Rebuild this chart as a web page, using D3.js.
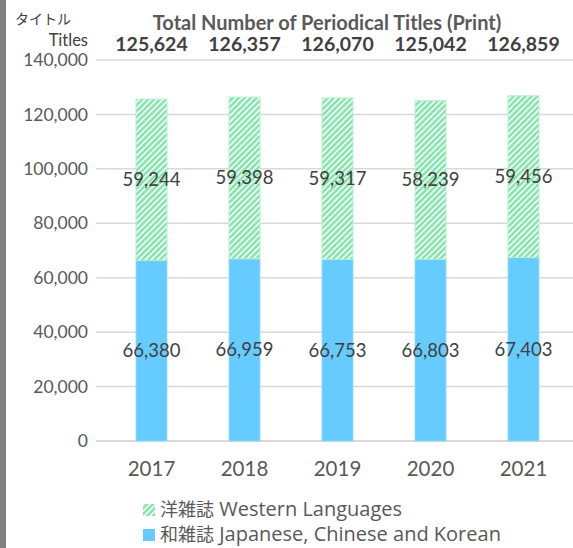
<!DOCTYPE html>
<html>
<head>
<meta charset="utf-8">
<script src="https://cdn.jsdelivr.net/npm/d3@7"></script>
<style>
  html, body { margin: 0; padding: 0; background: #fff; }
  svg { display: block; font-family: Lato, "Noto Sans CJK JP", sans-serif; }
</style>
</head>
<body>
<div id="chart"></div>
<script>
// Periodical titles held (print), stacked by language group.
var years = ["2017", "2018", "2019", "2020", "2021"];
var japanese = [66380, 66959, 66753, 66803, 67403];
var western = [59244, 59398, 59317, 58239, 59456];
var totals = [125624, 126357, 126070, 125042, 126859];
var yTicks = [0, 20000, 40000, 60000, 80000, 100000, 120000, 140000];
var legendJa = ["洋雑誌", "和雑誌"];
var legendEn = ["Western Languages", "Japanese, Chinese and Korean"];

(function () {
  "use strict";

  var width = 573, height = 548;
  var textColor = "#595959";
  var blue = "#66ccff", green = "#88e5b0";
  var fmt = d3.format(",");

  var svg = d3.select("#chart").append("svg")
    .attr("width", width)
    .attr("height", height);

  // striped fill for the western-language segment
  var defs = svg.append("defs");
  var pat = defs.append("pattern")
    .attr("id", "stripes")
    .attr("patternUnits", "userSpaceOnUse")
    .attr("width", 4.2)
    .attr("height", 4.2)
    .attr("patternTransform", "rotate(45)");
  pat.append("rect").attr("width", 4.2).attr("height", 4.2).attr("fill", green);
  pat.append("rect").attr("x", 0).attr("width", 1.5).attr("height", 4.2).attr("fill", "#fff");

  // gray strip on the left edge
  svg.append("rect").attr("x", 0).attr("y", 0).attr("width", 6).attr("height", height).attr("fill", "#7f7f7f");

  var x = d3.scaleBand().domain(years).range([105, 570])
    .paddingInner(2 / 3).paddingOuter(1 / 3);
  var y = d3.scaleLinear().domain([0, 140000]).range([441, 60]);

  // gridlines
  svg.append("g")
    .selectAll("line")
    .data(yTicks)
    .join("line")
    .attr("x1", 96).attr("x2", width)
    .attr("y1", function (d) { return y(d); })
    .attr("y2", function (d) { return y(d); })
    .attr("stroke", "#d9d9d9")
    .attr("stroke-width", function (d) { return d === 0 ? 2 : 1.5; });

  // y axis labels
  var yAxis = svg.append("g")
    .attr("transform", "translate(88,0)")
    .call(d3.axisLeft(y).tickValues(yTicks).tickFormat(fmt).tickSize(0).tickPadding(0));
  yAxis.select(".domain").remove();
  yAxis.selectAll("text")
    .attr("fill", textColor)
    .attr("font-size", 17.5)
    .attr("font-family", "Lato, sans-serif");

  // x axis labels
  var xAxis = svg.append("g")
    .attr("transform", "translate(0,461)")
    .call(d3.axisBottom(x).tickSize(0).tickPadding(0));
  xAxis.select(".domain").remove();
  xAxis.selectAll("text")
    .attr("fill", textColor)
    .attr("font-size", 20.5)
    .attr("font-family", "Lato, sans-serif");

  var rows = years.map(function (yr, i) {
    return { year: yr, jp: japanese[i], we: western[i], total: totals[i] };
  });

  var bars = svg.append("g");
  bars.selectAll("rect.jp")
    .data(rows)
    .join("rect")
    .attr("class", "jp")
    .attr("x", function (d) { return x(d.year); })
    .attr("width", x.bandwidth())
    .attr("y", function (d) { return y(d.jp); })
    .attr("height", function (d) { return y(0) - y(d.jp); })
    .attr("fill", blue)
    .attr("stroke", "#8fdcff")
    .attr("stroke-width", 0.8);

  bars.selectAll("rect.we")
    .data(rows)
    .join("rect")
    .attr("class", "we")
    .attr("x", function (d) { return x(d.year); })
    .attr("width", x.bandwidth())
    .attr("y", function (d) { return y(d.jp + d.we); })
    .attr("height", function (d) { return y(d.jp) - y(d.jp + d.we); })
    .attr("fill", "url(#stripes)")
    .attr("stroke", "#b8efcf")
    .attr("stroke-width", 1);

  var cx = function (d) { return x(d.year) + x.bandwidth() / 2; };

  var labels = svg.append("g")
    .attr("text-anchor", "middle")
    .attr("fill", "#404040")
    .attr("font-size", 18.5);
  labels.selectAll("text.jp")
    .data(rows)
    .join("text")
    .attr("class", "jp")
    .attr("x", cx)
    .attr("y", function (d) { return y(d.jp / 2); })
    .attr("dy", "0.35em")
    .text(function (d) { return fmt(d.jp); });
  labels.selectAll("text.we")
    .data(rows)
    .join("text")
    .attr("class", "we")
    .attr("x", cx)
    .attr("y", function (d) { return y(d.jp + d.we / 2); })
    .attr("dy", "0.35em")
    .text(function (d) { return fmt(d.we); });

  svg.append("g")
    .attr("text-anchor", "middle")
    .attr("fill", "#404040")
    .attr("font-size", 19.5)
    .attr("font-weight", "bold")
    .selectAll("text")
    .data(rows)
    .join("text")
    .attr("x", cx)
    .attr("y", 51)
    .text(function (d) { return fmt(d.total); });

  // title
  svg.append("text")
    .attr("x", 327).attr("y", 30)
    .attr("text-anchor", "middle")
    .attr("fill", textColor)
    .attr("font-size", 20)
    .attr("font-weight", "bold")
    .text("Total Number of Periodical Titles (Print)");

  // axis unit
  svg.append("text")
    .attr("x", 15).attr("y", 24)
    .attr("fill", "#404040")
    .attr("font-size", 14)
    .attr("font-family", "'Noto Sans CJK JP', sans-serif")
    .text("タイトル");
  svg.append("text")
    .attr("x", 88).attr("y", 46)
    .attr("text-anchor", "end")
    .attr("fill", "#404040")
    .attr("font-size", 16.5)
    .text("Titles");

  // legend
  var legend = svg.append("g").attr("transform", "translate(143,0)");
  var items = legend.selectAll("g")
    .data(legendJa)
    .join("g")
    .attr("transform", function (d, i) { return "translate(0," + (516 + i * 25) + ")"; });
  items.append("rect")
    .attr("x", 0).attr("y", -12)
    .attr("width", 12).attr("height", 12)
    .attr("fill", function (d, i) { return i === 0 ? "url(#stripes)" : blue; });
  var lt = items.append("text")
    .attr("x", 17).attr("y", 0)
    .attr("fill", textColor);
  lt.append("tspan")
    .attr("font-size", 18)
    .attr("font-family", "'Noto Sans CJK JP', sans-serif")
    .text(function (d) { return d; });
  lt.append("tspan")
    .attr("font-size", 20)
    .attr("font-family", "'Open Sans', sans-serif")
    .text(function (d, i) { return " " + legendEn[i]; });
})();
</script>
</body>
</html>
